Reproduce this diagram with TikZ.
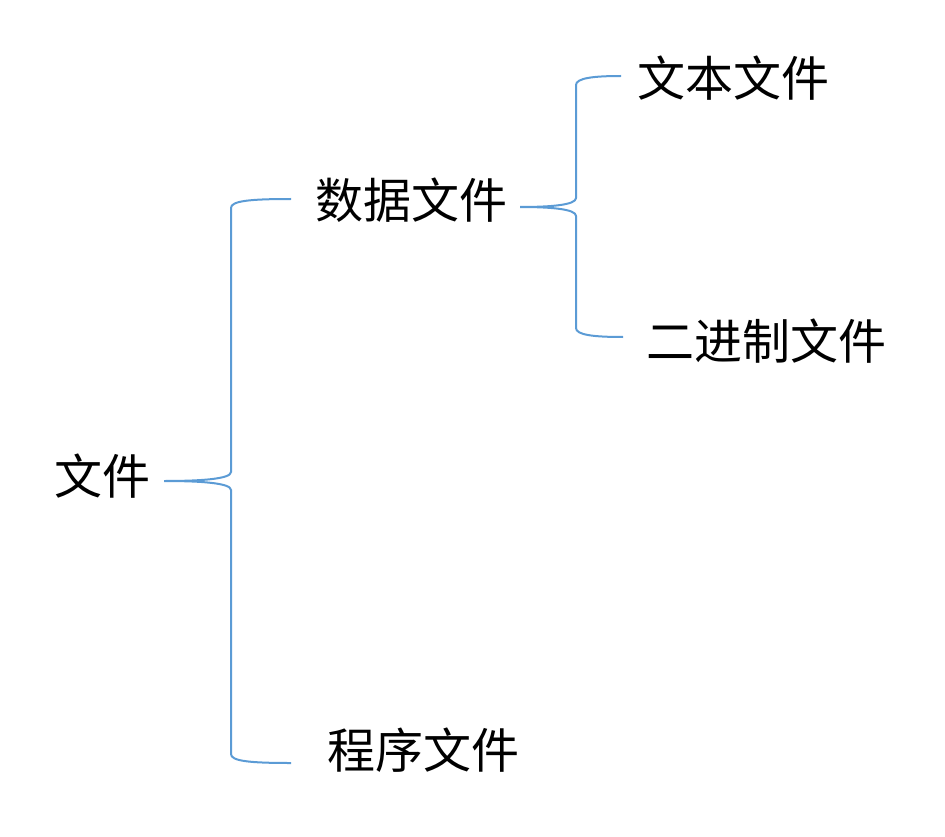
\documentclass[tikz,border=0pt]{standalone}
\usepackage{fontspec}
\newfontfamily\cjk{Noto Sans CJK SC}
\usetikzlibrary{calc,positioning}
\definecolor{braceblue}{HTML}{5B9BD5}
\tikzset{
    word/.style={font=\cjk\fontsize{48}{48}\selectfont, inner sep=0pt}, % the file names
    brace/.style={draw=braceblue, line width=2pt}, % the curly braces
    % half a brace: from the tip to one end, #1 is the distance to the upright part
    half brace/.style={to path={
        let \p1=(\tikztostart), \p2=(\tikztotarget), \n2={sign(\y2-\y1)} in
        (\p1) .. controls (\x1+0.55*#1pt,\y1) and (\x1+#1pt,\y1+\n2*2pt) .. (\x1+#1pt,\y1+\n2*9pt)
        -- (\x1+#1pt,\y2-\n2*9pt)
        .. controls (\x1+#1pt,\y2-\n2*2pt) and (\x1+#1pt+18pt,\y2) .. (\p2)}},
}

\begin{document}
\begin{tikzpicture}[x=1pt,y=-1pt]
  \useasboundingbox (0,0) rectangle (945,837);

  \node[word] (file)   at (102,476) {文件};
  \node[word] (data)   at (411,200) {数据文件};
  \node[word] (prog)   at (423,750) {程序文件};
  \node[word] (text)   at (733,78)  {文本文件};
  \node[word] (binary) at (766,341) {二进制文件};

  % tips and ends of the braces
  \coordinate (file tip)   at (164,481);
  \coordinate (data end)   at (291,199);
  \coordinate (prog end)   at (291,763);
  \coordinate (data tip)   at (520,207);
  \coordinate (text end)   at (621,76);
  \coordinate (binary end) at (623,337);

  \path[brace]
    (file tip) to[half brace=67] (data end)
    (file tip) to[half brace=67] (prog end)
    (data tip) to[half brace=56] (text end)
    (data tip) to[half brace=56] (binary end);
\end{tikzpicture}
\end{document}
